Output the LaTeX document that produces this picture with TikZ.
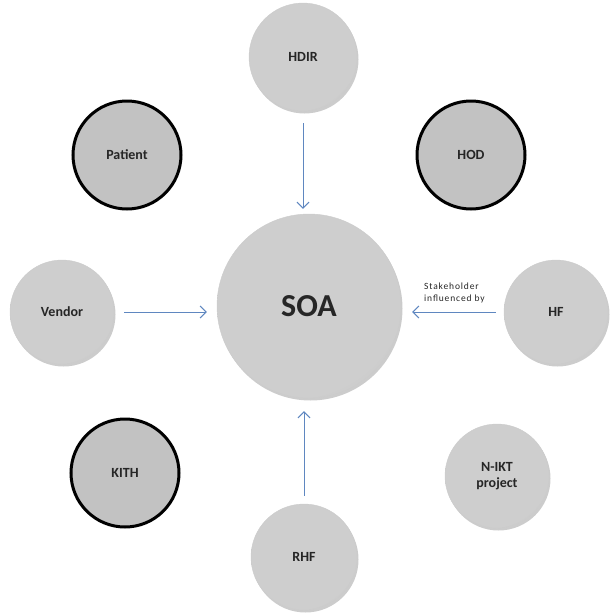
\documentclass[tikz,border=0pt]{standalone}
\usepackage{fontspec}
\setmainfont{Carlito}
\usetikzlibrary{arrows.meta,shadows}
\definecolor{ballin}{RGB}{206,206,206}
\definecolor{ballmid}{RGB}{196,196,196}
\definecolor{ballout}{RGB}{150,150,150}
\definecolor{flatgray}{RGB}{194,194,194}
\definecolor{arrblue}{RGB}{95,135,192}
\pgfdeclareradialshading{ball}{\pgfpoint{-6bp}{8bp}}{color(0bp)=(ballin); color(30bp)=(ballin); color(44bp)=(ballmid); color(56bp)=(ballout); color(100bp)=(ballout)}
\tikzset{
  soft/.style={circle, shading=ball, draw=gray!40, line width=0.4pt, inner sep=0pt,
    drop shadow={shadow xshift=1.5pt, shadow yshift=-2.5pt, opacity=0.2, fill=black},
    font=\bfseries\fontsize{14}{16}\selectfont, text=black!85, align=center},
  ringed/.style={circle, fill=flatgray, draw=black, line width=3pt, inner sep=0pt,
    font=\bfseries\fontsize{14}{16}\selectfont, text=black!85, align=center},
  flow/.style={draw=arrblue, line width=1pt, -{Straight Barb[length=6pt,width=12pt]}},
  note/.style={font=\fontsize{9.5}{12}\selectfont\addfontfeatures{LetterSpace=9}, align=left, text=black!85, inner sep=0pt, anchor=south west}
}
\begin{document}
\begin{tikzpicture}[x=1pt,y=-1pt]
\useasboundingbox (0,0) rectangle (612,616);
\node[soft, minimum size=184pt, font=\bfseries\fontsize{32}{36}\selectfont] (soa) at (309,306) {SOA};
\node[soft, minimum size=108pt] (hdir) at (303,57) {HDIR};
\node[ringed, minimum size=108pt] (patient) at (127,155) {Patient};
\node[ringed, minimum size=108pt] (hod) at (471,155) {HOD};
\node[soft, minimum size=104pt] (vendor) at (62,312) {Vendor};
\node[soft, minimum size=104pt] (hf) at (556,312) {HF};
\node[ringed, minimum size=108pt] (kith) at (125,473) {KITH};
\node[soft, minimum size=104pt] (nikt) at (497,476) {N-IKT\\project};
\node[soft, minimum size=106pt] (rhf) at (304,557) {RHF};
\draw[flow, shorten <=12pt, shorten >=5pt] (hdir.south) -- (hdir.south |- soa.north);
\draw[flow, shorten <=10pt, shorten >=10pt] (vendor.east) -- (vendor.east -| soa.west);
\draw[flow, shorten <=8pt, shorten >=11pt] (hf.west) -- (hf.west -| soa.east);
\draw[flow, shorten <=8pt, shorten >=13pt] (rhf.north) -- (rhf.north |- soa.south);
\node[note] (lbl) at (424,303) {Stakeholder\\influenced by};
\end{tikzpicture}
\end{document}
